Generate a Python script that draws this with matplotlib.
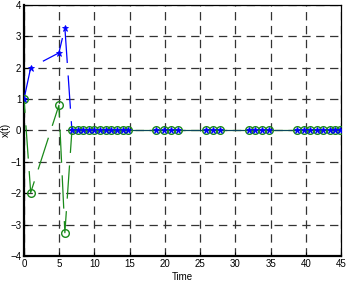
import numpy as np
import matplotlib
matplotlib.use("Agg")
import matplotlib.pyplot as plt

plt.rcParams["font.family"] = ["Liberation Sans", "DejaVu Sans"]
plt.rcParams["lines.scale_dashes"] = False

# event times and the two states
t = [0, 0.95, 4.95, 5.8, 6.8, 7.6, 8.4, 9.2, 10.0, 10.8, 11.6, 12.4, 13.2, 14.0, 14.8,
     18.8, 19.8, 20.8, 21.9, 25.8, 26.8, 27.8, 31.9, 32.8, 33.8, 34.8,
     38.8, 39.7, 40.6, 41.6, 42.5, 43.4, 44.2, 44.9]
x1 = [1, 2, 2.47, 3.27] + [0] * 30
x2 = [1, -1.98, 0.8, -3.26] + [0] * 30
n_trans = 5  # points of the transient part, after that the state sits at zero

blue = "#0000ff"
green = "#1a8a1a"

fig = plt.figure(figsize=(3.48, 3.04), dpi=100)
ax = fig.add_axes([0.069, 0.158, 0.911, 0.826])

# transient: long dashes
ax.plot(t[:n_trans], x2[:n_trans], color=green, lw=0.9, ls=(14, (24, 9)), zorder=3)
ax.plot(t[:n_trans], x1[:n_trans], color=blue, lw=0.9, ls=(0, (24, 9)), zorder=4)
# settled part: line looks continuous
ax.plot(t[n_trans - 1:], x2[n_trans - 1:], color=green, lw=0.9, zorder=3)
ax.plot(t[n_trans - 1:], x1[n_trans - 1:], color="#0a3a6a", lw=0.6, zorder=4)
# markers
ax.plot(t, x2, ls="none", marker="o", ms=5.5, mfc="none", mec=green, mew=1.0, zorder=5)
ax.plot(t, x1, ls="none", marker="*", ms=4.5, mfc=blue, mec=blue, mew=0.6, zorder=6)

ax.set_xlim(0, 45)
ax.set_ylim(-4, 4)
ax.set_xticks(np.arange(0, 46, 5))
ax.set_yticks(np.arange(-4, 5, 1))
ax.grid(True, color="#333333", ls=(0, (6, 4)), lw=0.9)
ax.tick_params(direction="in", labelsize=7, length=3, pad=2, top=False, right=False)
for name, s in ax.spines.items():
    s.set_color("black")
    s.set_linewidth(1.6 if name in ("left", "bottom") else 0.9)

ax.set_xlabel("Time", fontsize=7, labelpad=2)
ax.set_ylabel("x(t)", fontsize=7)
ax.yaxis.set_label_coords(-0.04, 0.5)

fig.savefig("out.png", dpi=100)
